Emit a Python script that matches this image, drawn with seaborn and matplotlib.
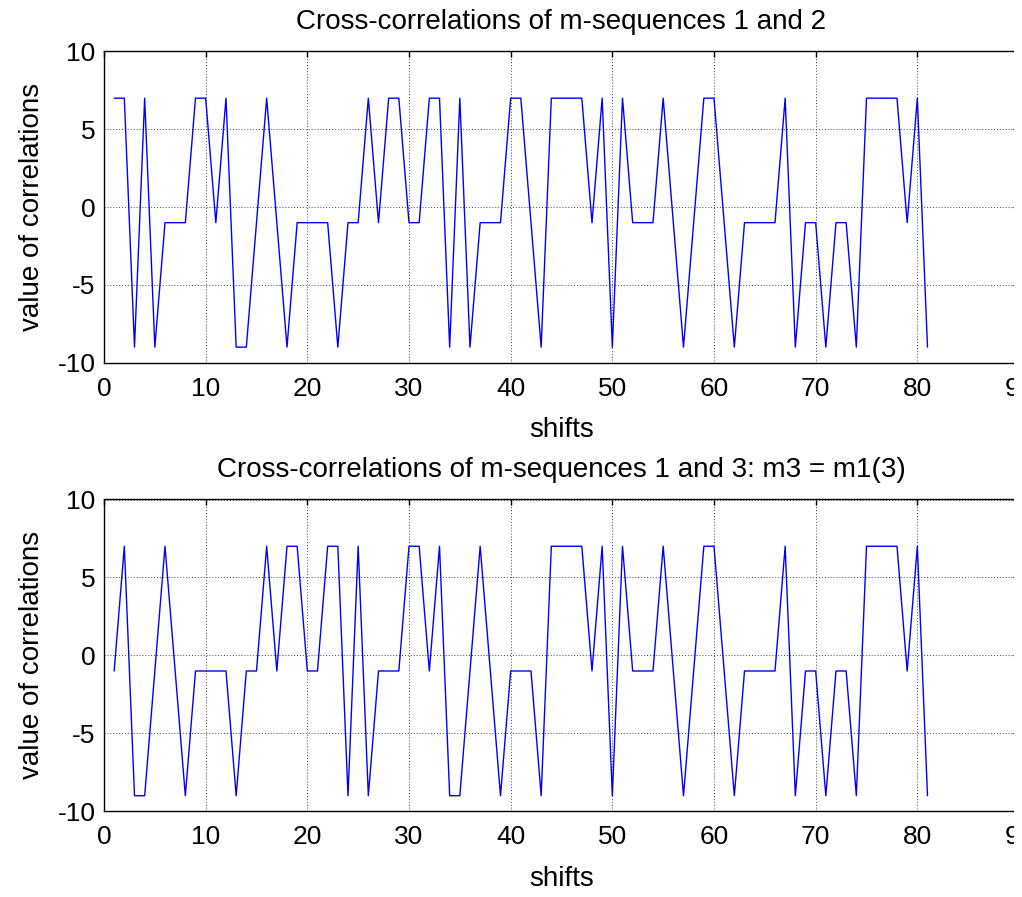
import numpy as np
import pandas as pd
import matplotlib
matplotlib.use("Agg")
import matplotlib.pyplot as plt
from matplotlib.patches import Rectangle
import seaborn as sns

shifts = list(range(1, 82))

corr_12 = [7, 7, -9, 7, -9, -1, -1, -1, 7, 7,
           -1, 7, -9, -9, -1, 7, -1, -9, -1, -1,
           -1, -1, -9, -1, -1, 7, -1, 7, 7, -1,
           -1, 7, 7, -9, 7, -9, -1, -1, -1, 7,
           7, -1, -9, 7, 7, 7, 7, -1, 7, -9,
           7, -1, -1, -1, 7, -1, -9, -1, 7, 7,
           -1, -9, -1, -1, -1, -1, 7, -9, -1, -1,
           -9, -1, -1, -9, 7, 7, 7, 7, -1, 7,
           -9]

corr_13 = [-1, 7, -9, -9, -1, 7, -1, -9, -1, -1,
           -1, -1, -9, -1, -1, 7, -1, 7, 7, -1,
           -1, 7, 7, -9, 7, -9, -1, -1, -1, 7,
           7, -1, 7, -9, -9, -1, 7, -1, -9, -1,
           -1, -1, -9, 7, 7, 7, 7, -1, 7, -9,
           7, -1, -1, -1, 7, -1, -9, -1, 7, 7,
           -1, -9, -1, -1, -1, -1, 7, -9, -1, -1,
           -9, -1, -1, -9, 7, 7, 7, 7, -1, 7,
           -9]

titles = ["Cross-correlations of m-sequences 1 and 2",
          "Cross-correlations of m-sequences 1 and 3: m3 = m1(3)"]
xlabel = "shifts"
ylabel = "value of correlations"
xticks = [0, 10, 20, 30, 40, 50, 60, 70, 80, 90]
yticks = [-10, -5, 0, 5, 10]

sns.set_theme(style="white")
plt.rcParams['font.family'] = ['Liberation Sans', 'DejaVu Sans']
plt.rcParams['axes.unicode_minus'] = False

W, H = 1022, 897
fig = plt.figure(figsize=(W / 100, H / 100), dpi=100)
fig.patch.set_facecolor("white")

boxes = [(104, 51.5, 1019, 362.7), (104, 499.5, 1019, 811.3)]
series = [corr_12, corr_13]

for (l, t, r, b), ys, title in zip(boxes, series, titles):
    ax = fig.add_axes([l / W, 1 - b / H, (r - l) / W, (b - t) / H])
    df = pd.DataFrame({"shift": shifts, "corr": ys})
    sns.lineplot(data=df, x="shift", y="corr", ax=ax, color="#0000ff",
                 linewidth=1.0, estimator=None, sort=False)
    ax.set_xlim(0, 90)
    ax.set_ylim(-10, 10)
    ax.set_xticks(xticks)
    ax.set_yticks(yticks)
    ax.set_xticklabels([str(v) for v in xticks])
    ax.set_yticklabels([str(v) for v in yticks])
    ax.grid(True, linestyle=(0, (1, 2)), color="#444444", linewidth=0.7)
    ax.tick_params(direction="in", length=4, width=1, top=True, right=True,
                   labelsize=19, colors="black")
    ax.tick_params(axis="x", pad=10)
    ax.tick_params(axis="y", pad=6)
    for sp in ax.spines.values():
        sp.set_color("black")
        sp.set_linewidth(1.0)
    ax.set_title(title, fontsize=20, pad=16, color="black")
    ax.set_xlabel(xlabel, fontsize=20, labelpad=12, color="black")
    ax.set_ylabel(ylabel, fontsize=20, labelpad=9, color="black")
    ax.set_facecolor("white")

# the reference image is cropped just past x = 1013 px
fig.add_artist(Rectangle((1014 / W, 0), (W - 1014) / W, 1,
                         transform=fig.transFigure, facecolor="white",
                         edgecolor="none", zorder=100))

fig.savefig("out.png", dpi=100, facecolor="white")
